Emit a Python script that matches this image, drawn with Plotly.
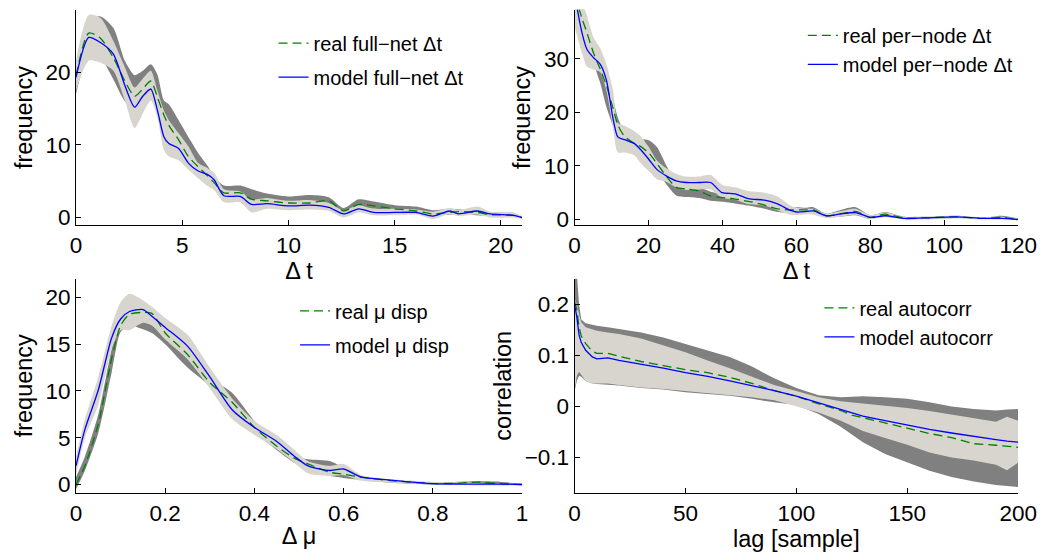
import plotly.graph_objects as go

# ---------------- Panel 1: full-net delta t ----------------
p1_x = [0, 0.6, 1.15, 1.76, 2.3, 2.76, 3.14, 3.52, 3.83, 4.14, 4.37, 4.83, 5.29, 5.75, 6.2, 6.5,
        6.96, 7.73, 8.27, 9.0, 10.0, 11.0, 11.9, 12.6, 13.3, 14.0, 15.0, 16.0, 16.8, 17.6, 18.0,
        18.9, 19.5, 20.6, 21.0]
p1_real = [19.5, 25.4, 24.7, 22.0, 18.8, 16.7, 17.7, 18.8, 16.6, 14.1, 12.7, 10.7, 8.4, 7.0, 5.7, 4.8,
           3.4, 3.4, 2.5, 2.3, 2.0, 2.0, 2.3, 0.9, 1.8, 1.6, 1.2, 0.9, 0.5, 0.7, 0.8, 0.7, 0.4, 0.3, 0.0]
p1_model = [19.3, 24.8, 24.1, 22.5, 18.2, 15.2, 16.7, 17.7, 14.8, 11.1, 10.2, 9.5, 7.5, 6.4, 5.9, 5.2,
            3.0, 2.9, 1.8, 1.9, 1.6, 1.7, 1.4, 0.5, 1.2, 0.7, 0.7, 0.7, 0.2, 0.9, 0.5, 0.9, 0.5, 0.3, 0.0]
p1_model_hi = [21.6, 27.9, 27.5, 24.3, 20.7, 17.9, 19.1, 20.2, 17.5, 14.7, 13.4, 11.6, 9.8, 7.5, 6.8, 6.2,
               3.9, 3.6, 2.5, 2.7, 2.3, 2.4, 2.0, 1.0, 1.7, 1.2, 1.2, 1.1, 0.8, 1.3, 1.0, 1.5, 0.8, 0.7, 0.2]
p1_model_lo = [17.5, 21.6, 21.3, 20.2, 16.1, 12.3, 14.3, 16.1, 13.8, 9.3, 8.4, 7.9, 6.6, 5.4, 4.3, 3.8,
               2.1, 2.1, 0.7, 1.2, 1.0, 1.1, 0.9, 0.0, 0.7, 0.3, 0.3, 0.4, -0.2, 0.5, 0.2, 0.4, 0.0, 0.0, -0.2]
p1_real_hi = [21.0, 27.0, 27.7, 26.1, 21.6, 19.6, 20.2, 21.1, 19.7, 16.1, 15.6, 13.4, 11.1, 8.9, 7.1, 5.7,
              4.4, 4.4, 3.9, 3.3, 2.9, 3.1, 2.8, 1.3, 2.5, 2.2, 1.7, 1.5, 1.0, 1.2, 1.1, 1.0, 0.7, 0.6, 0.1]
p1_real_lo = [17.0, 22.5, 22.0, 19.0, 16.0, 15.0, 16.0, 17.0, 15.0, 12.0, 11.0, 9.5, 7.0, 5.5, 4.5, 4.0,
              3.0, 2.8, 2.0, 1.8, 1.6, 1.8, 1.8, 0.6, 1.4, 1.2, 1.0, 0.7, 0.2, 0.4, 0.5, 0.3, 0.2, 0.1, -0.1]

# ---------------- Panel 2: per-node delta t ----------------
p2_x = [0, 2, 3.35, 5.1, 6.9, 8.6, 10.4, 11.7, 13.5, 16.1, 17.9, 20.1, 22.3, 24.9, 27.5, 30.2, 33.7,
        36.8, 39.9, 43.4, 47.0, 51.4, 54.9, 58.4, 60.1, 62.8, 64.6, 68.1, 71.6, 76.0, 80.0, 84.0,
        89.2, 94.5, 103.3, 110.3, 115.6, 120]
p2_real = [42, 37.5, 34.8, 31.1, 28.1, 25.0, 20.7, 17.6, 15.5, 14.2, 13.6, 12.4, 10.4, 8.0, 6.0, 5.7,
           5.3, 4.4, 4.1, 3.8, 3.4, 2.7, 2.0, 1.8, 1.8, 1.8, 1.8, 0.7, 1.0, 1.5, 0.4, 1.0, 0.3, 0.3,
           0.5, 0.2, 0.4, 0.0]
p2_model = [42, 34.8, 31.7, 30.2, 29.0, 26.0, 18.8, 15.4, 14.9, 14.2, 13.0, 11.2, 9.3, 8.1, 7.2, 6.9,
            6.9, 6.9, 5.0, 4.8, 3.9, 3.6, 2.9, 1.7, 1.4, 1.5, 1.6, 0.7, 1.0, 1.3, 0.4, 0.7, 0.2, 0.3,
            0.5, 0.2, 0.2, 0.0]
p2_model_hi = [45, 41, 38, 34, 32, 29, 24, 18, 17.5, 16.5, 15.5, 13.5, 11, 9.5, 8.5, 8.0, 8.0, 8.3,
               6.5, 6.0, 5.3, 5.0, 4.3, 2.6, 2.2, 2.0, 2.0, 1.1, 1.5, 2.0, 0.8, 1.3, 0.5, 0.6, 0.7,
               0.4, 0.5, 0.2]
p2_model_lo = [36, 31, 28.5, 28, 27.5, 24.0, 17.0, 12.5, 12.5, 12.0, 10.5, 9.0, 7.5, 7.0, 6.0, 5.5,
               5.6, 5.6, 4.0, 3.7, 2.9, 2.6, 1.7, 0.9, 0.8, 1.0, 0.9, 0.3, 0.5, 0.9, 0.1, 0.4, 0.0,
               0.0, 0.2, 0.0, 0.0, -0.1]
p2_real_hi = [46, 41, 37, 33, 30.5, 27, 22.5, 19, 16.5, 15.5, 15.0, 14.8, 13.5, 10.0, 7.0, 6.5, 6.0,
              5.2, 4.8, 4.5, 4.2, 3.6, 2.8, 2.3, 2.3, 2.2, 2.3, 1.1, 1.7, 2.3, 0.8, 1.4, 0.5, 0.4,
              0.7, 0.3, 0.7, 0.2]
p2_real_lo = [38, 33, 31, 29, 25.5, 21, 17.5, 15.5, 14, 13.5, 12.5, 10.5, 9.0, 6.5, 4.5, 4.2, 4.0,
              3.5, 3.3, 3.0, 2.6, 2.0, 1.4, 1.2, 1.2, 1.2, 1.3, 0.4, 0.5, 0.8, 0.1, 0.6, 0.1, 0.1,
              0.3, 0.1, 0.2, 0.0]

# ---------------- Panel 3: mu displacement ----------------
p3_x = [0, 0.02, 0.05, 0.08, 0.1, 0.12, 0.15, 0.17, 0.2, 0.25, 0.3, 0.35, 0.4, 0.45, 0.49, 0.52,
        0.57, 0.6, 0.64, 0.7, 0.8, 0.86, 0.9, 0.95, 1.0]
p3_real = [0.0, 2.0, 6.5, 13.5, 17.0, 18.2, 18.4, 18.3, 16.2, 13.9, 10.9, 8.8, 6.1, 4.1, 2.8, 2.2,
           1.3, 1.1, 0.78, 0.45, 0.1, 0.15, 0.25, 0.1, 0.0]
p3_model = [2.0, 5.9, 10.1, 15.7, 17.7, 18.5, 18.7, 18.0, 16.8, 14.8, 11.5, 8.0, 6.1, 4.6, 3.0, 2.0,
            1.5, 1.66, 0.78, 0.5, 0.1, 0.05, 0.05, 0.05, 0.0]
p3_model_hi = [3.0, 7.0, 11.5, 17.0, 19.5, 20.4, 19.7, 19.0, 17.8, 16.0, 12.5, 9.2, 6.8, 5.3, 3.7, 2.5,
               2.0, 2.2, 1.0, 0.6, 0.3, 0.25, 0.2, 0.15, 0.1]
p3_model_lo = [1.0, 5.0, 8.5, 14.5, 16.5, 16.5, 17.3, 17.0, 15.5, 13.4, 10.3, 7.0, 5.3, 3.8, 2.3, 1.2,
               0.9, 1.0, 0.4, 0.2, 0.0, -0.05, -0.1, -0.1, -0.1]
p3_real_hi = [0.8, 3.0, 7.5, 14.5, 17.8, 18.5, 18.6, 18.2, 16.5, 14.5, 11.5, 9.8, 6.8, 4.6, 3.0, 2.7,
              2.5, 1.8, 0.9, 0.5, 0.2, 0.3, 0.35, 0.3, 0.05]
p3_real_lo = [-0.5, 1.5, 5.5, 12.0, 16.3, 17.0, 16.6, 16.2, 15.0, 12.5, 10.5, 7.5, 5.5, 3.7, 2.3, 1.7,
              0.9, 0.7, 0.5, 0.2, 0.0, 0.05, 0.1, 0.05, 0.0]

# ---------------- Panel 4: autocorrelation ----------------
p4_x = [0, 1, 2, 3, 5, 8, 10, 15, 20, 30, 40, 50, 60, 70, 80, 90, 100, 110, 120, 125, 130, 140, 150,
        160, 170, 180, 190, 195, 200]
p4_real = [0.205, 0.19, 0.155, 0.138, 0.123, 0.108, 0.104, 0.104, 0.098, 0.088, 0.080, 0.072, 0.066,
           0.057, 0.045, 0.031, 0.020, 0.005, -0.008, -0.017, -0.022, -0.032, -0.043, -0.053, -0.061,
           -0.073, -0.076, -0.078, -0.080]
p4_model = [0.200, 0.175, 0.14, 0.125, 0.110, 0.097, 0.093, 0.095, 0.090, 0.083, 0.075, 0.066, 0.059,
            0.050, 0.041, 0.031, 0.020, 0.007, -0.007, -0.013, -0.019, -0.028, -0.037, -0.045, -0.052,
            -0.059, -0.065, -0.068, -0.070]
p4_model_hi = [0.21, 0.2, 0.18, 0.165, 0.155, 0.15, 0.148, 0.145, 0.142, 0.133, 0.12, 0.106, 0.09,
               0.075, 0.058, 0.042, 0.03, 0.018, 0.01, 0.008, 0.006, 0.002, -0.003, -0.009, -0.016,
               -0.024, -0.03, -0.02, -0.028]
p4_model_lo = [0.03, 0.06, 0.068, 0.062, 0.05, 0.045, 0.045, 0.045, 0.042, 0.037, 0.034, 0.030, 0.027,
               0.023, 0.018, 0.012, 0.0, -0.012, -0.028, -0.038, -0.048, -0.062, -0.075, -0.09, -0.1,
               -0.106, -0.114, -0.125, -0.11]
p4_real_hi = [0.3, 0.26, 0.2, 0.17, 0.163, 0.16, 0.158, 0.155, 0.152, 0.145, 0.135, 0.122, 0.11, 0.097,
              0.078, 0.055, 0.036, 0.022, 0.018, 0.019, 0.02, 0.018, 0.015, 0.008, 0.0, -0.005, -0.008,
              -0.006, -0.005]
p4_real_lo = [0.03, 0.05, 0.06, 0.058, 0.05, 0.045, 0.044, 0.043, 0.041, 0.036, 0.033, 0.028, 0.025,
              0.021, 0.015, 0.008, 0.003, -0.015, -0.04, -0.055, -0.07, -0.093, -0.11, -0.126, -0.138,
              -0.147, -0.154, -0.156, -0.158]

# ---------------- labels ----------------
legend_names = [("real full\u2212net \u0394t", "model full\u2212net \u0394t"),
                ("real per\u2212node \u0394t", "model per\u2212node \u0394t"),
                ("real \u03bc disp", "model \u03bc disp"),
                ("real autocorr", "model autocorr")]
x_titles = ["\u0394 t", "\u0394 t", "\u0394 \u03bc", "lag [sample]"]
y_titles = ["frequency", "frequency", "frequency", "correlation"]

DARK = "#808080"
LIGHT = "#d8d5ce"
GREEN = "#008000"
BLUE = "#0000ff"
FONT = "Liberation Sans, Arial, Helvetica, sans-serif"

panels = [
    (p1_x, p1_real, p1_model, p1_real_lo, p1_real_hi, p1_model_lo, p1_model_hi, "spline"),
    (p2_x, p2_real, p2_model, p2_real_lo, p2_real_hi, p2_model_lo, p2_model_hi, "spline"),
    (p3_x, p3_real, p3_model, p3_real_lo, p3_real_hi, p3_model_lo, p3_model_hi, "spline"),
    (p4_x, p4_real, p4_model, p4_real_lo, p4_real_hi, p4_model_lo, p4_model_hi, "linear"),
]

W, H = 1064, 558
x_dom = [[71.7 / W, 528.5 / W], [582.3 / W, 1036.5 / W], [71.7 / W, 528.5 / W], [582.3 / W, 1036.5 / W]]
y_dom = [[1 - 228 / H, 1 - 10 / H], [1 - 228 / H, 1 - 10 / H], [1 - 499 / H, 1 - 282.3 / H], [1 - 499 / H, 1 - 282.3 / H]]
x_rng = [[0, 21], [0, 120], [0, 1], [0, 200]]
y_rng = [[-1.05, 28.6], [-1.05, 39.1], [-0.88, 22.0], [-0.169, 0.250]]
x_ticks = [[0, 5, 10, 15, 20], [0, 20, 40, 60, 80, 100, 120], [0, 0.2, 0.4, 0.6, 0.8, 1], [0, 50, 100, 150, 200]]
y_ticks = [[0, 10, 20], [0, 10, 20, 30], [0, 5, 10, 15, 20], [-0.1, 0, 0.1, 0.2]]
y_ticktext = [None, None, None, ["\u22120.1", "0", "0.1", "0.2"]]
x_ticktext = [None, None, ["0", "0.2", "0.4", "0.6", "0.8", "1"], None]

# legend placement (left edge px, top px, group gap)
leg_pos = [(274, 24, 5), (816, 16, 0), (296, 295, 5), (833, 292, 0)]

fig = go.Figure()
for i, (x, real, model, rlo, rhi, mlo, mhi, shape) in enumerate(panels):
    k = "" if i == 0 else str(i + 1)
    xa, ya = "x" + k, "y" + k
    leg = "legend" + k
    ln = dict(shape=shape, smoothing=0.7) if shape == "spline" else dict(shape=shape)
    fig.add_trace(go.Scatter(x=x, y=rlo, xaxis=xa, yaxis=ya, mode="lines", line=dict(width=0, **ln),
                             showlegend=False, hoverinfo="skip"))
    fig.add_trace(go.Scatter(x=x, y=rhi, xaxis=xa, yaxis=ya, mode="lines", line=dict(width=0, **ln),
                             fill="tonexty", fillcolor=DARK, showlegend=False, hoverinfo="skip"))
    fig.add_trace(go.Scatter(x=x, y=mlo, xaxis=xa, yaxis=ya, mode="lines", line=dict(width=0, **ln),
                             showlegend=False, hoverinfo="skip"))
    fig.add_trace(go.Scatter(x=x, y=mhi, xaxis=xa, yaxis=ya, mode="lines", line=dict(width=0, **ln),
                             fill="tonexty", fillcolor=LIGHT, showlegend=False, hoverinfo="skip"))
    fig.add_trace(go.Scatter(x=x, y=real, xaxis=xa, yaxis=ya, mode="lines", name=legend_names[i][0],
                             line=dict(color=GREEN, width=1.3, dash="9px,5px", **ln),
                             legend=leg, legendgroup="r" + str(i)))
    fig.add_trace(go.Scatter(x=x, y=model, xaxis=xa, yaxis=ya, mode="lines", name=legend_names[i][1],
                             line=dict(color=BLUE, width=1.3, **ln),
                             legend=leg, legendgroup="m" + str(i)))

layout = dict(width=W, height=H, margin=dict(l=0, r=0, t=0, b=0), paper_bgcolor="white",
              plot_bgcolor="white", font=dict(family=FONT, size=23, color="black"), showlegend=True)
for i in range(4):
    k = "" if i == 0 else str(i + 1)
    ax_common = dict(showline=True, linecolor="black", linewidth=1, ticks="inside", ticklen=5,
                     tickcolor="black", showgrid=False, zeroline=False, mirror=False,
                     tickfont=dict(size=22.5, family=FONT))
    layout["xaxis" + k] = dict(domain=x_dom[i], range=x_rng[i], anchor="y" + k, tickvals=x_ticks[i],
                               ticktext=x_ticktext[i],
                               title=dict(text=x_titles[i], standoff=2, font=dict(size=23.5)), **ax_common)
    layout["yaxis" + k] = dict(domain=y_dom[i], range=y_rng[i], anchor="x" + k, tickvals=y_ticks[i],
                               ticktext=y_ticktext[i],
                               title=dict(text=y_titles[i], standoff=6, font=dict(size=23.5)), **ax_common)
    lx, ly, gap = leg_pos[i]
    layout["legend" + k] = dict(x=lx / W, y=1 - ly / H, xanchor="left", yanchor="top",
                                bgcolor="rgba(0,0,0,0)", borderwidth=0, font=dict(size=20, family=FONT),
                                traceorder="grouped", tracegroupgap=gap)
fig.update_layout(**layout)
fig.write_html("out.html", config={"displayModeBar": False},
               post_script="document.body.style.margin='0px';")
